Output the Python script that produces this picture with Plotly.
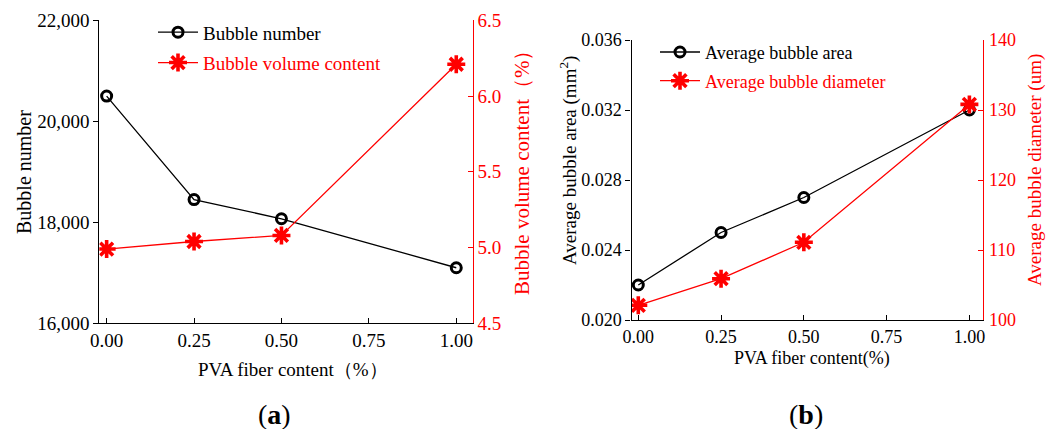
import plotly.graph_objects as go

W, H = 1056, 429

# ---- data ----
fiber_content = [0.00, 0.25, 0.50, 1.00]
bubble_number = [20500, 18450, 18070, 17100]
bubble_volume_content = [4.99, 5.04, 5.08, 6.21]
avg_bubble_area = [0.022, 0.025, 0.027, 0.032]
avg_bubble_diameter = [102.1, 105.9, 111.1, 130.8]

x_ticks = [0.00, 0.25, 0.50, 0.75, 1.00]

RED = "#ff0000"
BLACK = "#000000"
FONT = "Liberation Serif"

def px(x):
    return x / W

def py(y):
    return 1 - y / H

fig = go.Figure()

circle_marker = dict(symbol="circle-open", size=10, color=BLACK, line=dict(width=3, color=BLACK))
star_marker = dict(symbol="asterisk-open", size=15, color=RED, line=dict(width=3.6, color=RED))

fig.add_trace(go.Scatter(x=fiber_content, y=bubble_number, mode="lines+markers",
                         name="Bubble number", line=dict(color=BLACK, width=1.3),
                         marker=circle_marker, xaxis="x", yaxis="y", legend="legend"))
fig.add_trace(go.Scatter(x=fiber_content, y=bubble_volume_content, mode="lines+markers",
                         name="Bubble volume content", line=dict(color=RED, width=1.3),
                         marker=star_marker, xaxis="x", yaxis="y2", legend="legend2"))
fig.add_trace(go.Scatter(x=fiber_content, y=avg_bubble_area, mode="lines+markers",
                         name="Average bubble area", line=dict(color=BLACK, width=1.3),
                         marker=circle_marker, xaxis="x2", yaxis="y3", legend="legend3"))
fig.add_trace(go.Scatter(x=fiber_content, y=avg_bubble_diameter, mode="lines+markers",
                         name="Average bubble diameter", line=dict(color=RED, width=1.3),
                         marker=star_marker, xaxis="x2", yaxis="y4", legend="legend4"))

def axis_common(color, size, standoff=0):
    return dict(showline=True, linecolor=color, linewidth=1.2, showgrid=False, zeroline=False,
                tickfont=dict(family=FONT, size=size, color=color), tickcolor=color,
                ticklen=5, tickwidth=1.2, ticklabelstandoff=standoff, automargin=False)

fig.update_layout(
    xaxis=dict(domain=[px(99.3), px(472.7)], range=[-0.021, 1.047], anchor="y",
               tickvals=x_ticks, tickformat=".2f", ticks="inside", **axis_common(BLACK, 19, 0)),
    yaxis=dict(domain=[py(323.3), py(20.3)], range=[16000, 22000], anchor="x",
               dtick=2000, tick0=16000, tickformat=",", ticks="outside", **axis_common(BLACK, 19, 0)),
    yaxis2=dict(overlaying="y", side="right", anchor="x", range=[4.5, 6.5],
                dtick=0.5, tick0=4.5, tickformat=".1f", ticks="inside", **axis_common(RED, 19, 0)),
    xaxis2=dict(domain=[px(631.5), px(983.3)], range=[-0.0205, 1.042], anchor="y3",
                tickvals=x_ticks, tickformat=".2f", ticks="inside", **axis_common(BLACK, 18, 0)),
    yaxis3=dict(domain=[py(320), py(40)], range=[0.020, 0.036], anchor="x2",
                dtick=0.004, tick0=0.020, tickformat=".3f", ticks="outside", **axis_common(BLACK, 18, 0)),
    yaxis4=dict(overlaying="y3", side="right", anchor="x2", range=[100, 140],
                dtick=10, tick0=100, ticks="inside", **axis_common(RED, 18, 1)),
)

def legend_at(x, y, color, size):
    return dict(x=px(x), y=py(y), xanchor="left", yanchor="middle", bgcolor="rgba(0,0,0,0)",
                font=dict(family=FONT, size=size, color=color), itemwidth=40,
                borderwidth=0)

fig.update_layout(
    legend=legend_at(153, 32.3, BLACK, 19),
    legend2=legend_at(153, 62.7, RED, 19),
    legend3=legend_at(655, 52.3, BLACK, 18),
    legend4=legend_at(655, 81, RED, 18),
)

ann = []
def add_text(text, x, y, color=BLACK, size=19, angle=0):
    ann.append(dict(text=text, x=px(x), y=py(y), xref="paper", yref="paper", showarrow=False,
                    textangle=angle, xanchor="center", yanchor="middle",
                    font=dict(family=FONT, size=size, color=color)))

add_text("Bubble number", 24, 172, BLACK, 20, -90)
add_text("Bubble volume content（%）", 522, 168, RED, 21, -90)
add_text("PVA fiber content（%）", 293, 369, BLACK, 19)
add_text("Average bubble area (mm<sup>2</sup>)", 568, 161, BLACK, 19, -90)
add_text("Average bubble diameter (um)", 1035, 170, RED, 19, -90)
add_text("PVA fiber content(%)", 812, 358, BLACK, 18)
add_text("(<b>a</b>)", 274, 414, BLACK, 28)
add_text("(<b>b</b>)", 806, 414, BLACK, 28)

fig.update_layout(
    annotations=ann,
    width=W, height=H,
    margin=dict(l=0, r=0, t=0, b=0, autoexpand=False),
    paper_bgcolor="white", plot_bgcolor="white",
    showlegend=True,
)

fig.write_html("out.html")
